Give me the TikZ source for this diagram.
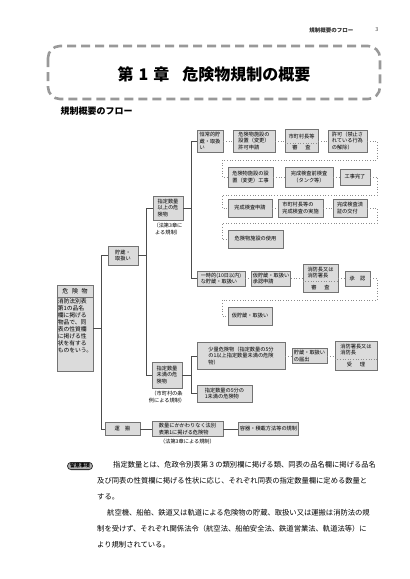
\documentclass[tikz,border=0pt]{standalone}
\usepackage{fontspec}
\setmainfont{Noto Sans CJK JP}
\usetikzlibrary{shadows}
\tikzset{
  box/.style={draw=black!55, fill=black!14, line width=0.6pt, inner xsep=1.5pt, inner ysep=1pt, align=left,
    font=\fontsize{5.2}{6.4}\selectfont,
    drop shadow={shadow xshift=0.6pt, shadow yshift=-0.6pt, fill=black!45, opacity=1}},
  txt/.style={inner sep=0pt, align=center, font=\fontsize{5.2}{6.4}\selectfont},
  trunk/.style={draw=black!70, line width=0.8pt},
  dotline/.style={draw=black!45, dotted, line width=0.7pt},
  divline/.style={draw=black!45, dotted, line width=0.6pt},
  frame/.style={draw=black!40, line width=2.6pt, dash pattern=on 9pt off 5pt, rounded corners=12pt},
  badge/.style={draw=black!80, fill=black!30, rounded corners=3.5pt, line width=0.8pt, inner xsep=2.5pt, inner ysep=1.2pt,
    font=\fontsize{5}{5}\selectfont\bfseries},
}
\begin{document}
\begin{tikzpicture}[x=1pt, y=-1pt]
  \useasboundingbox (0,0) rectangle (410,579);

  % heading
  \node[anchor=east, font=\fontsize{5.5}{6}\selectfont\bfseries, text=black!80] (hdr) at (357,30) {規制概要のフロー};
  \node[font=\fontsize{5.5}{6}\selectfont, text=black!70] (pg) at (377,30) {3};
  \draw[frame] (48,46) rectangle (380,99);
  \node[font=\fontsize{16}{18}\selectfont\bfseries] (ttl) at (214,74) {第\hspace{5pt}1\hspace{5pt}章\hspace{13pt}危険物規制の概要};
  \node[anchor=west, font=\fontsize{9}{10}\selectfont\bfseries] (sub) at (57,111) {規制概要のフロー};

  % left column
  \node[box, minimum width=36pt, minimum height=86pt] (kiken) at (75,328) {};
  \node[txt, font=\fontsize{6}{7}\selectfont] (kiken-h) at (75,291) {危\hspace{0.6em}険\hspace{0.6em}物};
  \draw[draw=black!55, line width=0.6pt] (kiken.west |- 0,297) -- (kiken.east |- 0,297);
  \node[txt, align=left, font=\fontsize{5.8}{7}\selectfont] (kiken-b) at (75,326) {消防法別表\\第1の品名\\欄に掲げる\\物品で、同\\表の性質欄\\に掲げる性\\状を有する\\ものをいう。};
  \node[box, minimum width=30pt, minimum height=19pt] (chozo) at (123,255.5) {貯蔵・\\取扱い};
  \node[box, minimum width=35pt, minimum height=13pt] (unpan) at (122.5,429) {運\hspace{1em}搬};

  \node[box, minimum width=30pt, minimum height=24pt] (ijou) at (168,208) {指定数量\\以上の危\\険物};
  \node[txt] (ijou-l) at (168,229) {（法第3章に\\よる規制）};
  \node[box, minimum width=30pt, minimum height=26pt] (miman) at (167,375) {指定数量\\未満の危\\険物};
  \node[txt] (miman-l) at (167,397) {（市町村の条\\例による規制）};

  % row 1
  \node[box, minimum width=26pt, minimum height=22pt] (n1a) at (210,141) {恒常的貯\\蔵・取扱\\い};
  \node[box, minimum width=42pt, minimum height=22pt] (n1b) at (254,141) {危険物施設の\\設置（変更）\\許可申請};
  \node[box, minimum width=33pt, minimum height=23pt] (n1c) at (301.5,141) {};
  \node[txt] (n1c-t) at (301.5,136.5) {市町村長等};
  \node[txt] (n1c-b) at (301.5,148) {審\hspace{1.5em}査};
  \draw[divline] (n1c.west |- 0,143) -- (n1c.east |- 0,143);
  \node[box, minimum width=39pt, minimum height=22pt] (n1d) at (347.5,141) {許可（禁止さ\\れている行為\\の解除）};

  % row 2
  \node[box, minimum width=45pt, minimum height=20pt] (n2a) at (250.5,177) {危険物施設の設\\置（変更）工事};
  \node[box, minimum width=48pt, minimum height=20pt, align=center] (n2b) at (309,177) {完成検査前検査\\（タンク等）};
  \node[box, minimum width=30pt, minimum height=16pt] (n2c) at (355,177) {工事完了};

  % row 3
  \node[box, minimum width=44pt, minimum height=18pt] (n3a) at (250,208) {完成検査申請};
  \node[box, minimum width=45pt, minimum height=18pt] (n3b) at (300.5,208) {市町村長等の\\完成検査の実施};
  \node[box, minimum width=34pt, minimum height=18pt] (n3c) at (350,208) {完成検査済\\証の交付};

  \node[box, minimum width=55pt, minimum height=18pt] (n4) at (255.5,239) {危険物施設の使用};

  % row 5
  \node[box, minimum width=48pt, minimum height=15pt] (n5a) at (221,278.5) {一時的(10日以内)\\な貯蔵・取扱い};
  \node[box, minimum width=38pt, minimum height=15pt] (n5b) at (271,278.5) {仮貯蔵・取扱い\\承認申請};
  \node[box, minimum width=35pt, minimum height=28pt] (n5c) at (320.5,278.5) {};
  \node[txt, align=left] (n5c-t) at (320.5,272.5) {消防長又は\\消防署長};
  \node[txt] (n5c-b) at (320.5,287.5) {審\hspace{1.5em}査};
  \draw[divline] (n5c.west |- 0,281) -- (n5c.east |- 0,281);
  \node[box, minimum width=25pt, minimum height=15pt] (n5d) at (357.5,278.5) {承\hspace{1em}認};

  \node[box, minimum width=44pt, minimum height=18pt] (n6) at (250,316) {仮貯蔵・取扱い};

  % small quantities
  \node[box, minimum width=88pt, minimum height=27pt] (m1) at (241,356) {少量危険物（指定数量の5分\\の1以上指定数量未満の危険\\物）};
  \node[box, minimum width=35pt, minimum height=15pt] (m2) at (309.5,356) {貯蔵・取扱い\\の届出};
  \node[box, minimum width=42pt, minimum height=29pt] (m3) at (356,356) {};
  \node[txt, align=left] (m3-t) at (356,349.5) {消防署長又は\\消防長};
  \node[txt] (m3-b) at (356,364.5) {受\hspace{1.5em}理};
  \draw[divline] (m3.west |- 0,359) -- (m3.east |- 0,359);
  \node[box, minimum width=55pt, minimum height=17pt] (m4) at (224.5,393.5) {指定数量の5分の\\1未満の危険物};

  % transport
  \node[box, minimum width=71pt, minimum height=15pt] (u2) at (187.5,429) {数量にかかわりなく法別\\表第1に掲げる危険物};
  \node[txt] (u2-l) at (187.5,442) {（法第3章による規制）};
  \node[box, minimum width=57pt, minimum height=13pt] (u3) at (268.5,429) {容器・積載方法等の規制};

  % solid connectors
  \coordinate (tr1) at (101,0);
  \coordinate (tr2) at (146,0);
  \coordinate (tr3) at (191,0);
  \draw[trunk] (chozo.west) -| (tr1 |- unpan.west) -- (unpan.west);
  \draw[trunk] (kiken.east) -- (kiken.east -| tr1);
  \draw[trunk] (ijou.west) -| (tr2 |- miman.west) -- (miman.west);
  \draw[trunk] (chozo.east) -- (chozo.east -| tr2);
  \draw[trunk] (n1a.west) -| (tr3 |- n5a.west) -- (n5a.west);
  \draw[trunk] (ijou.east) -- (ijou.east -| tr3);
  \draw[trunk] (m1.west) -| (tr3 |- m4.west) -- (m4.west);
  \draw[trunk] (miman.east) -- (miman.east -| tr3);
  \draw[trunk] (unpan) -- (u2) -- (u3);

  % dotted flow
  \foreach \a/\b in {n1a/n1b, n1b/n1c, n1c/n1d, n2a/n2b, n2b/n2c, n3a/n3b, n3b/n3c,
                     n5a/n5b, n5b/n5c, n5c/n5d, m1/m2, m2/m3}
    \draw[dotline] (\a.east) -- (\b.west);
  \coordinate (r1) at (377,160); \coordinate (l1) at (222,160);
  \coordinate (r2) at (377,195); \coordinate (l2) at (222,195);
  \coordinate (r3) at (377,223); \coordinate (l3) at (222,223);
  \coordinate (r5) at (377,300); \coordinate (l5) at (222,300);
  \draw[dotline] (n1d.east) -| (r1) -- (l1) |- (n2a.west);
  \draw[dotline] (n2c.east) -| (r2) -- (l2) |- (n3a.west);
  \draw[dotline] (n3c.east) -| (r3) -- (l3) |- (n4.west);
  \draw[dotline] (n5d.east) -| (r5) -- (l5) |- (n6.west);

  % note
  \node[badge] (tag) at (80,466) {留意事項};
  \node[anchor=north west, align=left, inner sep=0pt, font=\fontsize{7.3}{16}\selectfont] (note) at (97,461.5)
    {\hspace*{16pt}指定数量とは、危政令別表第３の類別欄に掲げる類、同表の品名欄に掲げる品名\\
     及び同表の性質欄に掲げる性状に応じ、それぞれ同表の指定数量欄に定める数量と\\
     する。\\
     \hspace*{10pt}航空機、船舶、鉄道又は軌道による危険物の貯蔵、取扱い又は運搬は消防法の規\\
     制を受けず、それぞれ関係法令（航空法、船舶安全法、鉄道営業法、軌道法等）に\\
     より規制されている。};
\end{tikzpicture}
\end{document}
